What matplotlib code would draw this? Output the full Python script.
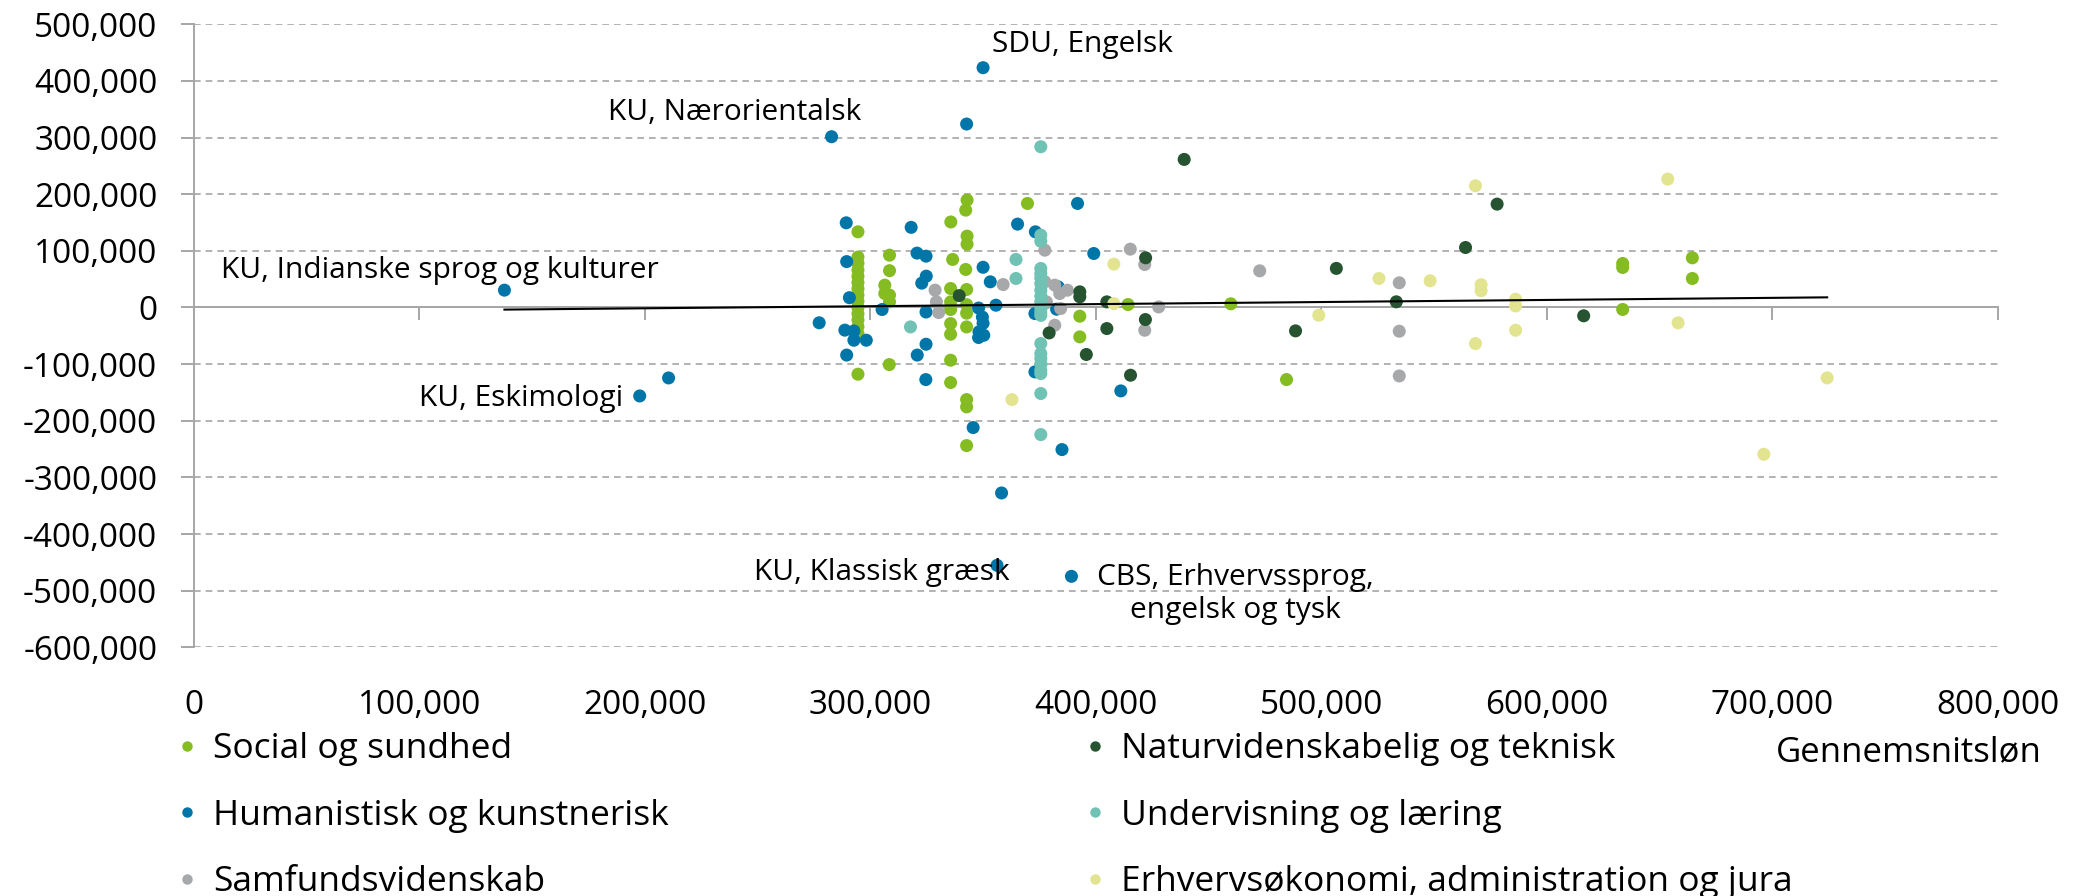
import matplotlib.pyplot as plt
import numpy as np
from matplotlib.lines import Line2D
from matplotlib.ticker import FuncFormatter

plt.rcParams['font.family'] = ['Open Sans', 'DejaVu Sans']

# Social og sundhed
soc_x = [294500, 294500, 294500, 294500, 294500, 294500, 294500, 294500, 294500, 294500,
         294500, 294500, 294500, 294500, 294500,
         308500, 308500, 306400, 306400, 308500, 308500, 308400,
         335700, 342900, 342300, 342900, 342900, 336500, 342300,
         335600, 342700, 335600, 342700, 342700, 335600,
         335600, 335600, 342700, 335600, 335600, 342700, 342700, 342700,
         369700, 414300, 392900, 392900, 459900, 484600,
         633700, 633700, 633700, 664600, 664600]
soc_y = [133600, 89000, 78000, 66000, 55000, 44000, 33000, 22000, 11000, 0,
         -11000, -22000, -34000, -46000, -117800,
         92400, 65000, 39400, 24700, 21800, 10000, -100800,
         151000, 189600, 171900, 126000, 111800, 84800, 67100,
         33500, 31700, 9900, 5000, -10000, -3600,
         -28400, -47200, -34300, -93100, -132500, -162600, -175500, -243800,
         183700, 5200, -15400, -51900, 6500, -127300,
         77700, 70700, -3500, 87700, 51200]

# Humanistisk og kunstnerisk (the first six are labelled)
hum_names = ["KU, Indianske sprog og kulturer", "KU, Eskimologi", "KU, Nærorientalsk",
             "SDU, Engelsk", "KU, Klassisk græsk", "CBS, Erhvervssprog,\nengelsk og tysk"]
hum_x = [137700, 197700, 282800, 350000, 356200, 389200,
         210500, 277300, 289300, 289500, 290700, 288700, 292700, 292700, 298200, 289500,
         305200, 318100, 320700, 324700, 324800, 322800, 324700, 324700, 320800, 324600,
         342700, 350000, 353200, 355700, 348000, 349700, 350000, 348200, 350300, 348000,
         345600, 358200, 365300, 373200, 373000, 382600, 383300, 373000, 385000,
         391900, 399100, 411100]
hum_y = [30600, -156200, 301500, 423400, -455300, -474700,
         -124400, -27000, 149500, 81000, 17300, -40000, -41500, -57800, -57800, -84000,
         -3600, 141500, 96000, 90600, 55300, 43000, -8000, -64900, -84000, -127300,
         323900, 71000, 45300, 4000, -1000, -17000, -28000, -43000, -49000, -53000,
         -212000, -327500, 147200, 133600, -10700, -3000, 36400, -113700, -250900,
         183700, 95300, -147300]

# Samfundsvidenskab
sam_x = [328700, 329300, 330300, 358900, 377400, 377400, 381800, 387400, 384000, 378100,
         377400, 384400, 381800, 415300, 421700, 421700, 427900, 472700, 534600, 534600, 534600]
sam_y = [30600, 10000, -9000, 40500, 101200, 45300, 39400, 30500, 24600, 9900,
         7000, -1900, -31300, 103000, 75900, -40200, 1000, 64700, 43600, -41900, -120900]

# Naturvidenskabelig og teknisk
nat_x = [339400, 379300, 392900, 392900, 395800, 404900, 404900, 415400, 422100, 422000,
         439200, 488600, 506700, 533300, 564000, 578000, 616400]
nat_y = [21000, -44900, 27600, 18800, -83000, 9900, -37200, -119600, 87700, -21300,
         261400, -41300, 69000, 10000, 105900, 182500, -14700]

# Undervisning og læring
und_x = [317800, 364600, 364600, 375600, 375600, 375600,
         375600, 375600, 375600, 375600, 375600, 375600, 375600, 375600, 375600, 375600,
         375600, 375600, 375600, 375600, 375600, 375600, 375600, 375600]
und_y = [-34300, 84800, 51200, 283800, 127700, 117000,
         68900, 60000, 52000, 42300, 30600, 20000, 10000, 0, -7800, -14000,
         -63700, -81400, -90200, -100000, -110800, -116700, -151900, -224400]

# Erhvervsøkonomi, administration og jura
erh_x = [362800, 408000, 408000, 498900, 525600, 548300, 568400, 570900, 570900, 568400,
         586200, 586200, 586200, 653700, 658300, 696300, 724400]
erh_y = [-162600, 76500, 6900, -13600, 51200, 47100, 214900, 40100, 29500, -63700,
         14500, 2700, -40200, 226700, -27100, -259200, -124400]

series = [
    ("Social og sundhed", soc_x, soc_y, "#84bc22"),
    ("Humanistisk og kunstnerisk", hum_x, hum_y, "#0076a8"),
    ("Samfundsvidenskab", sam_x, sam_y, "#a7a8aa"),
    ("Naturvidenskabelig og teknisk", nat_x, nat_y, "#265431"),
    ("Undervisning og læring", und_x, und_y, "#70c2b4"),
    ("Erhvervsøkonomi, administration og jura", erh_x, erh_y, "#e3e48f"),
]
draw_order = [0, 1, 4, 2, 3, 5]

W, H = 2080, 896
fig = plt.figure(figsize=(W / 100, H / 100), dpi=100)
ax = fig.add_axes([194 / W, 1 - 647.3 / H, (1997.6 - 194) / W, (647.3 - 24.3) / H])

ax.set_xlim(0, 800000)
ax.set_ylim(-600000, 500000)
ticks_x = np.arange(0, 800001, 100000)
ax.set_xticks(ticks_x)
ax.set_yticks(np.arange(-600000, 500001, 100000))
fmt = FuncFormatter(lambda v, p: '{:,.0f}'.format(v))
ax.yaxis.set_major_formatter(fmt)

grey = '#a6a6a6'
for s in ['top', 'right']:
    ax.spines[s].set_visible(False)
ax.spines['bottom'].set_position(('data', 0))
ax.spines['bottom'].set_color(grey)
ax.spines['bottom'].set_linewidth(1.4)
ax.spines['left'].set_color(grey)
ax.spines['left'].set_linewidth(1.4)
ax.grid(axis='y', color=grey, linestyle=(0, (4, 3)), linewidth=1.2)
ax.set_axisbelow(True)
ax.tick_params(axis='x', direction='out', length=9.4, width=1.4, color=grey, labelbottom=False)
ax.tick_params(axis='y', direction='out', length=9.4, width=1.4, color=grey,
               labelsize=24, pad=17, labelcolor='black')

sec = ax.secondary_xaxis('bottom')
sec.set_xticks(ticks_x)
sec.xaxis.set_major_formatter(fmt)
sec.tick_params(length=0, labelsize=24, pad=30)
sec.spines['bottom'].set_visible(False)

for i in draw_order:
    name, xs, ys, col = series[i]
    ax.scatter(xs, ys, s=88, color=col, edgecolors='none', zorder=3 + i * 0.1, clip_on=False)

# linear trendline over all points
all_x = np.concatenate([np.array(s[1], float) for s in series])
all_y = np.concatenate([np.array(s[2], float) for s in series])
k, m = np.polyfit(all_x, all_y, 1)
tx = np.array([all_x.min(), all_x.max()])
ax.plot(tx, k * tx + m, color='black', linewidth=1.5, zorder=4)

# data labels
label_offsets = [((111, 14.5), 'right'), ((-12, -1.5), 'right'), ((21.6, 17.3), 'right'),
                 ((6.5, 16.5), 'left'), ((9.4, -5), 'right'), ((118, -12.6), 'center')]
for i, name in enumerate(hum_names):
    (dx, dy), ha = label_offsets[i]
    ax.annotate(name, xy=(hum_x[i], hum_y[i]), xytext=(dx, dy), textcoords='offset points',
                ha=ha, va='center', fontsize=21.5, multialignment='center', zorder=6)

fig.text(2042 / W, 1 - 752 / H, 'Gennemsnitsløn', ha='right', va='center', fontsize=25)

def make_handles(idx):
    return [Line2D([], [], linestyle='none', marker='o', markersize=7.5,
                   markerfacecolor=series[i][3], markeredgecolor='none') for i in idx]

leg_kw = dict(frameon=False, fontsize=25.5, loc='upper left', borderpad=0, borderaxespad=0,
              handlelength=0.6, handletextpad=0.45, labelspacing=0.92)
leg1 = fig.legend(make_handles([0, 1, 2]), [series[i][0] for i in [0, 1, 2]],
                  bbox_to_anchor=(176 / W, 1 - 732 / H), **leg_kw)
leg2 = fig.legend(make_handles([3, 4, 5]), [series[i][0] for i in [3, 4, 5]],
                  bbox_to_anchor=(1084 / W, 1 - 732 / H), **leg_kw)

fig.savefig('out.png', dpi=100)
